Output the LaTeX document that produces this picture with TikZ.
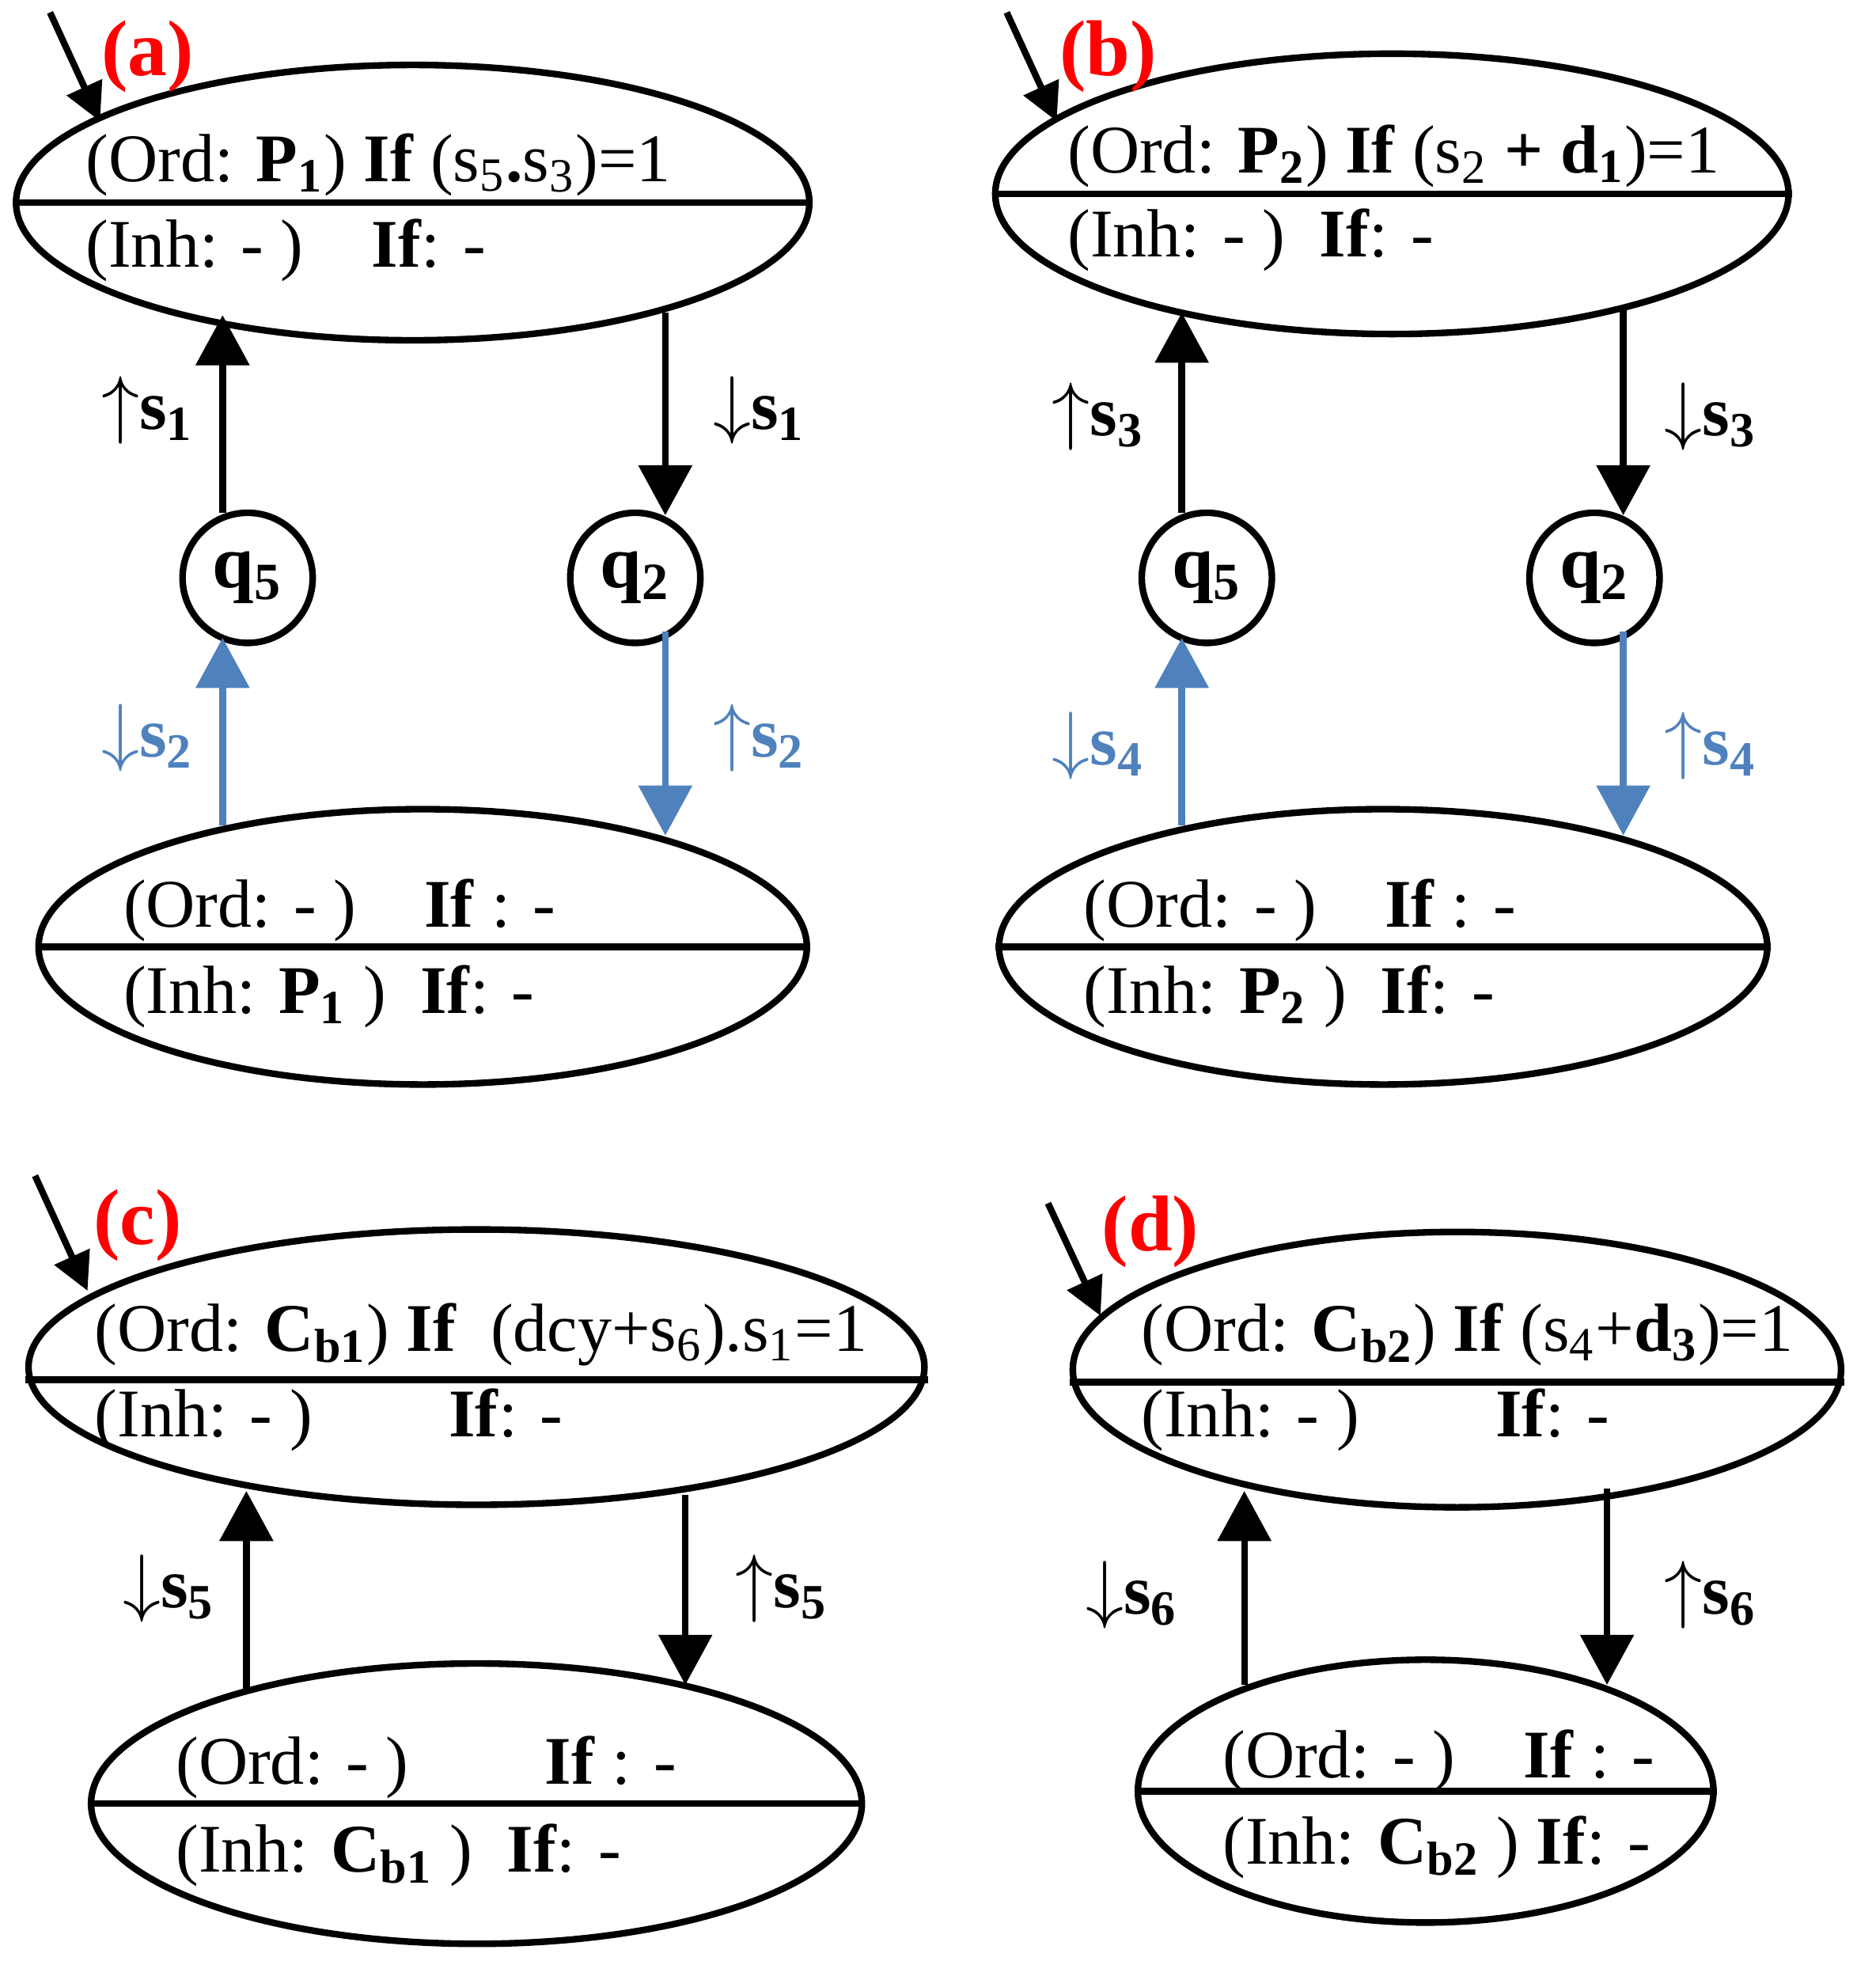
\documentclass[tikz,border=0pt]{standalone}
\usepackage{fontspec}
\setmainfont{Liberation Serif}
\usetikzlibrary{arrows.meta,shapes.geometric}
\definecolor{bl}{RGB}{79,129,189}
\begin{document}
\begin{tikzpicture}[x=0.01cm,y=-0.01cm,
  el/.style={draw,line width=1.5pt,ellipse,inner sep=0pt},
  st/.style={draw,line width=1.5pt,circle,minimum size=1.04cm,inner sep=0pt,font=\fontsize{17}{20}\selectfont\bfseries},
  ar/.style={line width=1.5pt,-{Triangle[length=0.4cm,width=0.42cm]}},
  ia/.style={line width=1.5pt,-{Triangle[length=0.3cm,width=0.3cm]}},
  tx/.style={anchor=west,inner sep=0pt,font=\fontsize{15.5}{18}\selectfont},
  lb/.style={inner sep=0pt,font=\fontsize{16}{18}\selectfont\bfseries},
  tag/.style={inner sep=0pt,text=red,font=\fontsize{18}{20}\selectfont\bfseries}]
\useasboundingbox (0,0) rectangle (1500,1583);
% ---------- (a)
\node[el,minimum width=6.34cm,minimum height=2.2cm] (a1) at (330,162) {};
\draw[line width=1.5pt] (a1.west) -- (a1.east);
\node[el,minimum width=6.14cm,minimum height=2.2cm] (a2) at (338,757) {};
\draw[line width=1.5pt] (a2.west) -- (a2.east);
\node[st] (a5) at (198,462) {q\textsubscript{5}};
\node[st] (a3) at (508,462) {q\textsubscript{2}};
\coordinate (ai0) at (40,10); \coordinate (ai1) at (80,97);
\draw[ia] (ai0) -- (ai1);
\node[tag] (at) at (118,45) {(a)};
\coordinate (au0) at (178,410); \coordinate (au1) at (178,252);
\draw[ar] (au0) -- (au1);
\coordinate (ad0) at (532,250); \coordinate (ad1) at (532,412);
\draw[ar] (ad0) -- (ad1);
\coordinate (ab0) at (178,660); \coordinate (ab1) at (178,510);
\draw[ar,bl] (ab0) -- (ab1);
\coordinate (ac0) at (532,505); \coordinate (ac1) at (532,668);
\draw[ar,bl] (ac0) -- (ac1);
\node[lb] (al1) at (118,328) {$\uparrow$s\textsubscript{1}};
\node[lb] (al2) at (607,328) {$\downarrow$s\textsubscript{1}};
\node[lb,bl] (al3) at (118,590) {$\downarrow$s\textsubscript{2}};
\node[lb,bl] (al4) at (607,590) {$\uparrow$s\textsubscript{2}};
\node[tx] (at1) at (68,132) {(Ord: \textbf{P\textsubscript{1}}) \textbf{If} (s\textsubscript{5}\textbf{.}s\textsubscript{3})=1};
\node[tx] (at2) at (68,200) {(Inh: - )\quad \textbf{If}: -};
\node[tx] (at3) at (98,728) {(Ord: - )\quad \textbf{If} : -};
\node[tx] (at4) at (98,797) {(Inh: \textbf{P\textsubscript{1}} )\enspace \textbf{If}: -};
% ---------- (b)
\node[el,minimum width=6.34cm,minimum height=2.24cm] (b1) at (1113,155) {};
\draw[line width=1.5pt] (b1.west) -- (b1.east);
\node[el,minimum width=6.14cm,minimum height=2.2cm] (b2) at (1106,757) {};
\draw[line width=1.5pt] (b2.west) -- (b2.east);
\node[st] (b5) at (965,462) {q\textsubscript{5}};
\node[st] (b3) at (1275,462) {q\textsubscript{2}};
\coordinate (bi0) at (805,10); \coordinate (bi1) at (845,97);
\draw[ia] (bi0) -- (bi1);
\node[tag] (bt) at (886,45) {(b)};
\coordinate (bu0) at (945,410); \coordinate (bu1) at (945,250);
\draw[ar] (bu0) -- (bu1);
\coordinate (bd0) at (1298,245); \coordinate (bd1) at (1298,412);
\draw[ar] (bd0) -- (bd1);
\coordinate (bb0) at (945,660); \coordinate (bb1) at (945,510);
\draw[ar,bl] (bb0) -- (bb1);
\coordinate (bc0) at (1298,505); \coordinate (bc1) at (1298,668);
\draw[ar,bl] (bc0) -- (bc1);
\node[lb] (bl1) at (878,333) {$\uparrow$s\textsubscript{3}};
\node[lb] (bl2) at (1368,333) {$\downarrow$s\textsubscript{3}};
\node[lb,bl] (bl3) at (878,596) {$\downarrow$s\textsubscript{4}};
\node[lb,bl] (bl4) at (1368,596) {$\uparrow$s\textsubscript{4}};
\node[tx] (bt1) at (853,125) {(Ord: \textbf{P\textsubscript{2}}) \textbf{If} (s\textsubscript{2} \textbf{+} \textbf{d\textsubscript{1}})=1};
\node[tx] (bt2) at (853,192) {(Inh: - )\enspace \textbf{If}: -};
\node[tx] (bt3) at (866,728) {(Ord: - )\quad \textbf{If} : -};
\node[tx] (bt4) at (866,797) {(Inh: \textbf{P\textsubscript{2}} )\enspace \textbf{If}: -};
% ---------- (c)
\node[el,minimum width=7.16cm,minimum height=2.2cm] (c1) at (381,1093) {};
\draw[line width=1.5pt] ([yshift=-0.1cm]c1.west) -- ([yshift=-0.1cm]c1.east);
\node[el,minimum width=6.16cm,minimum height=2.24cm] (c2) at (381,1442) {};
\draw[line width=1.5pt] (c2.west) -- (c2.east);
\coordinate (ci0) at (28,940); \coordinate (ci1) at (70,1032);
\draw[ia] (ci0) -- (ci1);
\node[tag] (ct) at (110,980) {(c)};
\coordinate (cu0) at (197,1352); \coordinate (cu1) at (197,1192);
\draw[ar] (cu0) -- (cu1);
\coordinate (cd0) at (548,1195); \coordinate (cd1) at (548,1347);
\draw[ar] (cd0) -- (cd1);
\node[lb] (cl1) at (135,1270) {$\downarrow$s\textsubscript{5}};
\node[lb] (cl2) at (625,1270) {$\uparrow$s\textsubscript{5}};
\node[tx] (ct1) at (75,1067) {(Ord: \textbf{C\textsubscript{b1}}) \textbf{If}\enspace(dcy+s\textsubscript{6}).s\textsubscript{1}=1};
\node[tx] (ct2) at (75,1135) {(Inh: - )\qquad \textbf{If}: -};
\node[tx] (ct3) at (140,1413) {(Ord: - )\qquad \textbf{If} : -};
\node[tx] (ct4) at (140,1483) {(Inh: \textbf{C\textsubscript{b1}} )\enspace \textbf{If}: -};
% ---------- (d)
\node[el,minimum width=6.14cm,minimum height=2.2cm] (d1) at (1165,1095) {};
\draw[line width=1.5pt] ([yshift=-0.1cm]d1.west) -- ([yshift=-0.1cm]d1.east);
\node[el,minimum width=4.6cm,minimum height=2.1cm] (d2) at (1140,1432) {};
\draw[line width=1.5pt] (d2.west) -- (d2.east);
\coordinate (di0) at (838,962); \coordinate (di1) at (880,1052);
\draw[ia] (di0) -- (di1);
\node[tag] (dt) at (920,985) {(d)};
\coordinate (du0) at (995,1347); \coordinate (du1) at (995,1192);
\draw[ar] (du0) -- (du1);
\coordinate (dd0) at (1285,1190); \coordinate (dd1) at (1285,1347);
\draw[ar] (dd0) -- (dd1);
\node[lb] (dl1) at (905,1275) {$\downarrow$s\textsubscript{6}};
\node[lb] (dl2) at (1368,1275) {$\uparrow$s\textsubscript{6}};
\node[tx] (dt1) at (912,1067) {(Ord: \textbf{C\textsubscript{b2}}) \textbf{If} (s\textsubscript{4}+\textbf{d\textsubscript{3}})=1};
\node[tx] (dt2) at (912,1135) {(Inh: - )\qquad \textbf{If}: -};
\node[tx] (dt3) at (977,1408) {(Ord: - )\quad \textbf{If} : -};
\node[tx] (dt4) at (977,1477) {(Inh: \textbf{C\textsubscript{b2}} ) \textbf{If}: -};
\end{tikzpicture}
\end{document}
